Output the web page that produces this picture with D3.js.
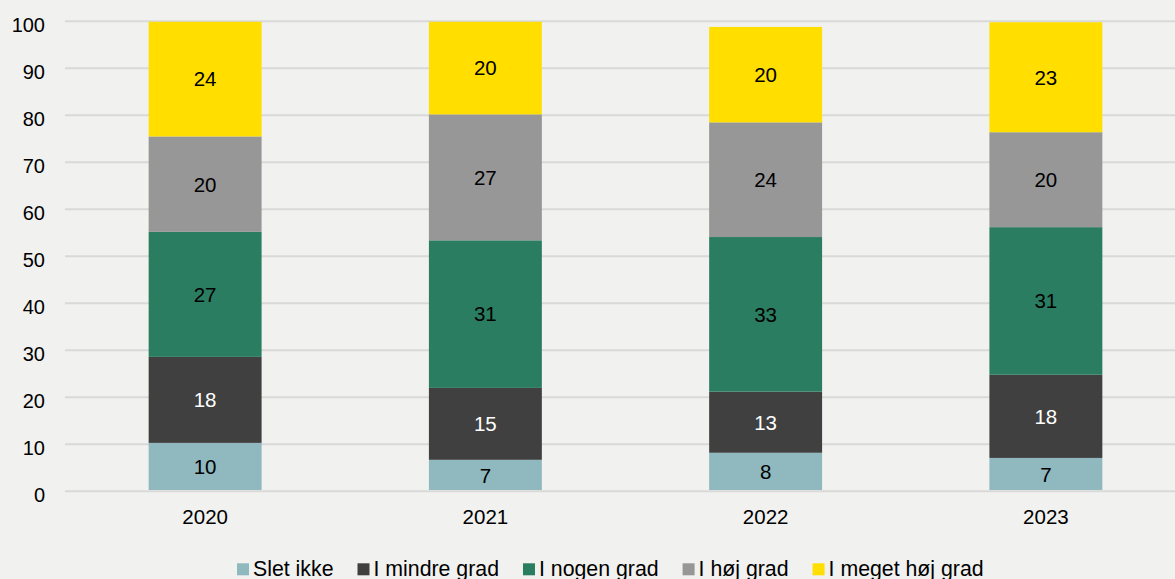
<!DOCTYPE html>
<html>
<head>
<meta charset="utf-8">
<script src="https://cdn.jsdelivr.net/npm/d3@7"></script>
<style>
  html, body { margin: 0; padding: 0; background: #f1f1ef; }
  svg { display: block; }
  text { font-family: "Liberation Sans", Arial, sans-serif; }
</style>
</head>
<body>
<svg id="chart" width="1175" height="579"></svg>
<script>
// Data
const years = ["2020", "2021", "2022", "2023"];
const seriesNames = ["Slet ikke", "I mindre grad", "I nogen grad", "I høj grad", "I meget høj grad"];
const sletIkke     = [10.3, 6.7, 8.2, 7.1];
const iMindreGrad  = [18.3, 15.3, 13.0, 17.7];
const iNogenGrad   = [26.6, 31.4, 32.9, 31.4];
const iHojGrad     = [20.3, 26.8, 24.4, 20.2];
const iMegetHojGrad = [24.4, 19.7, 20.3, 23.4];
const yTicks = [0, 10, 20, 30, 40, 50, 60, 70, 80, 90, 100];

const seriesValues = [sletIkke, iMindreGrad, iNogenGrad, iHojGrad, iMegetHojGrad];
const colors = ["#8fb8bf", "#404040", "#2b7d62", "#979797", "#ffde00"];
const labelColors = ["#000", "#fff", "#000", "#000", "#000"];

const rows = years.map((y, i) => {
  const r = { year: y };
  seriesNames.forEach((s, j) => r[s] = seriesValues[j][i]);
  return r;
});

const svg = d3.select("#chart");
const W = 1175;

const x = d3.scaleBand().domain(years).range([65, 1186]).paddingInner(0.597).paddingOuter(0.2985);
const y = d3.scaleLinear().domain([0, 100]).range([491.3, 21.3]);

// Gridlines
svg.append("g").selectAll("line").data(yTicks).join("line")
  .attr("x1", 65).attr("x2", W)
  .attr("y1", d => y(d)).attr("y2", d => y(d))
  .attr("stroke", "#d9d9d9").attr("stroke-width", 2);

// Y axis labels
const yAxis = d3.axisLeft(y).tickValues(yTicks).tickSize(0).tickPadding(0);
const yg = svg.append("g").attr("transform", "translate(45,0)").call(yAxis);
yg.select(".domain").remove();
yg.selectAll("text").attr("font-size", 20).attr("fill", "#000")
  .attr("font-family", "Liberation Sans, Arial, sans-serif").attr("dy", "0.52em");

// Stacked bars
const stack = d3.stack().keys(seriesNames);
const stacked = stack(rows);

const groups = svg.append("g").selectAll("g").data(stacked).join("g")
  .attr("fill", (d, i) => colors[i]);

groups.selectAll("rect").data(d => d).join("rect")
  .attr("x", d => x(d.data.year))
  .attr("width", x.bandwidth())
  .attr("y", d => y(d[1]))
  .attr("height", d => y(d[0]) - y(d[1]) - (d[0] === 0 ? 1.3 : 0));

// Data labels
stacked.forEach((layer, i) => {
  svg.append("g").selectAll("text").data(layer).join("text")
    .attr("x", d => x(d.data.year) + x.bandwidth() / 2)
    .attr("y", d => (y(d[0]) + y(d[1])) / 2)
    .attr("dy", "0.36em")
    .attr("text-anchor", "middle")
    .attr("font-size", 20.5)
    .attr("fill", labelColors[i])
    .text(d => Math.round(d[1] - d[0]));
});

// X axis labels
const xAxis = d3.axisBottom(x).tickSize(0).tickPadding(0);
const xg = svg.append("g").attr("transform", "translate(0,509.5)").call(xAxis);
xg.select(".domain").remove();
xg.selectAll("text").attr("font-size", 20.5).attr("fill", "#000")
  .attr("font-family", "Liberation Sans, Arial, sans-serif").attr("dy", "0.71em");

// Legend
const legend = svg.append("g");
let lx = 237;
seriesNames.forEach((s, i) => {
  legend.append("rect").attr("x", lx).attr("y", 563.3).attr("width", 12).attr("height", 12).attr("fill", colors[i]);
  const t = legend.append("text").attr("x", lx + 16).attr("y", 575.5)
    .attr("font-size", 21.3).attr("fill", "#000").text(s);
  const w = t.node().getComputedTextLength();
  lx = lx + 16 + w + 24;
});
</script>
</body>
</html>
